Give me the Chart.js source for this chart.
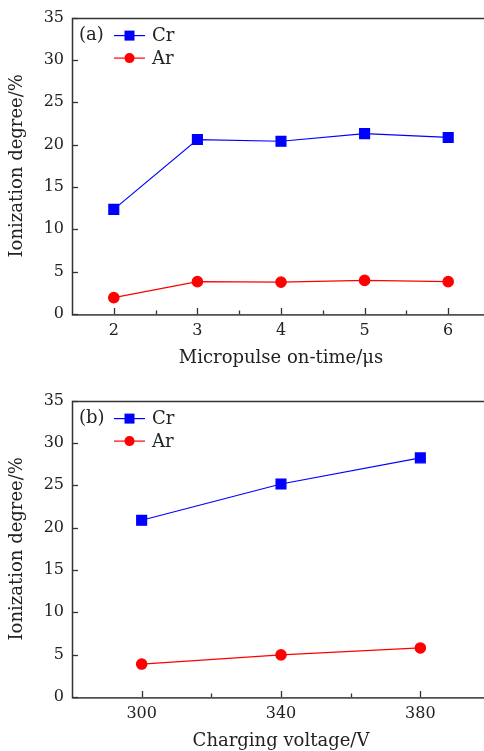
<!DOCTYPE html>
<html>
<head>
<meta charset="utf-8">
<script src="https://cdn.jsdelivr.net/npm/chart.js@4/dist/chart.umd.min.js"></script>
<style>
  html, body { margin: 0; padding: 0; background: #fff; overflow: hidden; width: 484px; height: 751px; }
  #stage { position: relative; width: 484px; height: 751px; overflow: hidden; }
  canvas { position: absolute; left: 0; }
  #chart-a { top: 0; }
  #chart-b { top: 383px; }
</style>
</head>
<body>
<div id="stage">
  <canvas id="chart-a" width="490" height="375"></canvas>
  <canvas id="chart-b" width="490" height="368"></canvas>
</div>
<script>
// ── Data ─────────────────────────────────────────────────────────────────────

const onTime   = [2, 3, 4, 5, 6];              // µs
const crOnTime = [12.35, 20.6, 20.4, 21.3, 20.85];
const arOnTime = [1.93, 3.82, 3.76, 3.97, 3.82];

const voltage   = [300, 340, 380];             // V
const crVoltage = [20.87, 25.15, 28.24];
const arVoltage = [3.89, 4.97, 5.79];

const yTicksMajor = [0, 5, 10, 15, 20, 25, 30, 35];

// ── Style ────────────────────────────────────────────────────────────────────

const FONT  = "'DejaVu Serif', serif";
const INK   = "#222";
const AXIS  = "#333";
const BLUE  = "#0000ff";
const RED   = "#ff0000";

Chart.defaults.font.family = FONT;
Chart.defaults.color = INK;

// inward ticks + full frame
const framePlugin = {
  id: "frame",
  afterDraw(chart, args, opts) {
    const { ctx, chartArea: a, scales } = chart;
    ctx.save();
    ctx.strokeStyle = AXIS;
    ctx.lineWidth = 1.3;
    scales.x.ticks.forEach(t => {
      const px = Math.round(scales.x.getPixelForValue(t.value)) + 0.5;
      const len = opts.xMajor(t.value) ? 6 : 3.5;
      ctx.beginPath(); ctx.moveTo(px, a.bottom); ctx.lineTo(px, a.bottom - len); ctx.stroke();
    });
    scales.y.ticks.forEach(t => {
      const py = Math.round(scales.y.getPixelForValue(t.value)) + 0.5;
      const len = yTicksMajor.includes(t.value) ? 6 : 3.5;
      ctx.beginPath(); ctx.moveTo(a.left, py); ctx.lineTo(a.left + len, py); ctx.stroke();
    });
    ctx.lineWidth = 1.5;
    ctx.strokeRect(Math.round(a.left) + 0.5, Math.round(a.top) + 0.5,
                   a.right - a.left, a.bottom - a.top);
    ctx.restore();
  },
};

// "(a) ■ Cr / ● Ar" style legend with line through the marker
const legendPlugin = {
  id: "inlegend",
  afterDraw(chart, args, opts) {
    const { ctx, chartArea: a } = chart;
    ctx.save();
    ctx.font = `18px ${FONT}`;
    ctx.fillStyle = INK;
    ctx.textBaseline = "middle";
    ctx.fillText(opts.tag, a.left + 7, a.top + 18);
    chart.data.datasets.forEach((ds, i) => {
      const y = a.top + 18 + i * 22.5;
      const x0 = a.left + 42, x1 = a.left + 73, xm = (x0 + x1) / 2;
      ctx.strokeStyle = ds.borderColor;
      ctx.lineWidth = 1.2;
      ctx.beginPath(); ctx.moveTo(x0, y); ctx.lineTo(x1, y); ctx.stroke();
      ctx.fillStyle = ds.backgroundColor;
      ctx.beginPath();
      if (ds.pointStyle === "rect") ctx.rect(xm - 5, y - 5, 10, 10);
      else ctx.arc(xm, y, 5, 0, Math.PI * 2);
      ctx.fill();
      ctx.fillStyle = INK;
      ctx.fillText(ds.label, a.left + 80, y + 1);
    });
    ctx.restore();
  },
};

function makeChart(id, tag, xs, cr, ar, xOpts, xTitle, xHeight) {
  const ctx = document.getElementById(id).getContext("2d");
  return new Chart(ctx, {
    type: "line",
    data: {
      datasets: [
        {
          label: "Cr",
          data: xs.map((x, i) => ({ x, y: cr[i] })),
          borderColor: BLUE, backgroundColor: BLUE,
          borderWidth: 1.2, pointStyle: "rect", pointRadius: 7, tension: 0,
        },
        {
          label: "Ar",
          data: xs.map((x, i) => ({ x, y: ar[i] })),
          borderColor: RED, backgroundColor: RED,
          borderWidth: 1.2, pointStyle: "circle", pointRadius: 5.2, tension: 0,
        },
      ],
    },
    options: {
      responsive: false,
      animation: false,
      devicePixelRatio: 1,
      layout: { autoPadding: false, padding: { top: 12, left: 0, right: 0, bottom: 0 } },
      plugins: {
        legend: { display: false },
        tooltip: { enabled: false },
        frame: { xMajor: xOpts.isMajor },
        inlegend: { tag },
      },
      scales: {
        x: {
          type: "linear",
          min: xOpts.min, max: xOpts.max,
          afterBuildTicks: s => { s.ticks = xOpts.ticks.map(v => ({ value: v })); },
          ticks: {
            font: { size: 16 }, color: INK, padding: 7,
            callback: v => (xOpts.isMajor(v) ? String(v) : ""),
          },
          grid: { display: true, drawOnChartArea: false, drawTicks: false },
          border: { display: false },
          title: { display: true, text: xTitle, font: { size: 18 }, color: INK, padding: { top: 0, bottom: xHeight - 55 } },
          afterFit: s => { s.height = xHeight; },
        },
        y: {
          min: 0, max: 35,
          ticks: {
            stepSize: 2.5, font: { size: 16 }, color: INK, padding: 8,
            callback: v => (yTicksMajor.includes(v) ? String(v) : ""),
          },
          grid: { display: true, drawOnChartArea: false, drawTicks: false },
          border: { display: false },
          title: { display: true, text: "Ionization degree/%", font: { size: 18 }, color: INK, padding: { top: 7, bottom: 0 } },
          afterFit: s => { s.width = 72; },
        },
      },
    },
    plugins: [framePlugin, legendPlugin],
  });
}

makeChart("chart-a", "(a)", onTime, crOnTime, arOnTime, {
  min: 1.5, max: 6.5,
  ticks: [2, 2.5, 3, 3.5, 4, 4.5, 5, 5.5, 6],
  isMajor: v => Number.isInteger(v),
}, "Micropulse on-time/\u03bcs", 61);

makeChart("chart-b", "(b)", voltage, crVoltage, arVoltage, {
  min: 280, max: 400,
  ticks: [300, 320, 340, 360, 380],
  isMajor: v => v % 40 === 20,
}, "Charging voltage/V", 54);
</script>
</body>
</html>
